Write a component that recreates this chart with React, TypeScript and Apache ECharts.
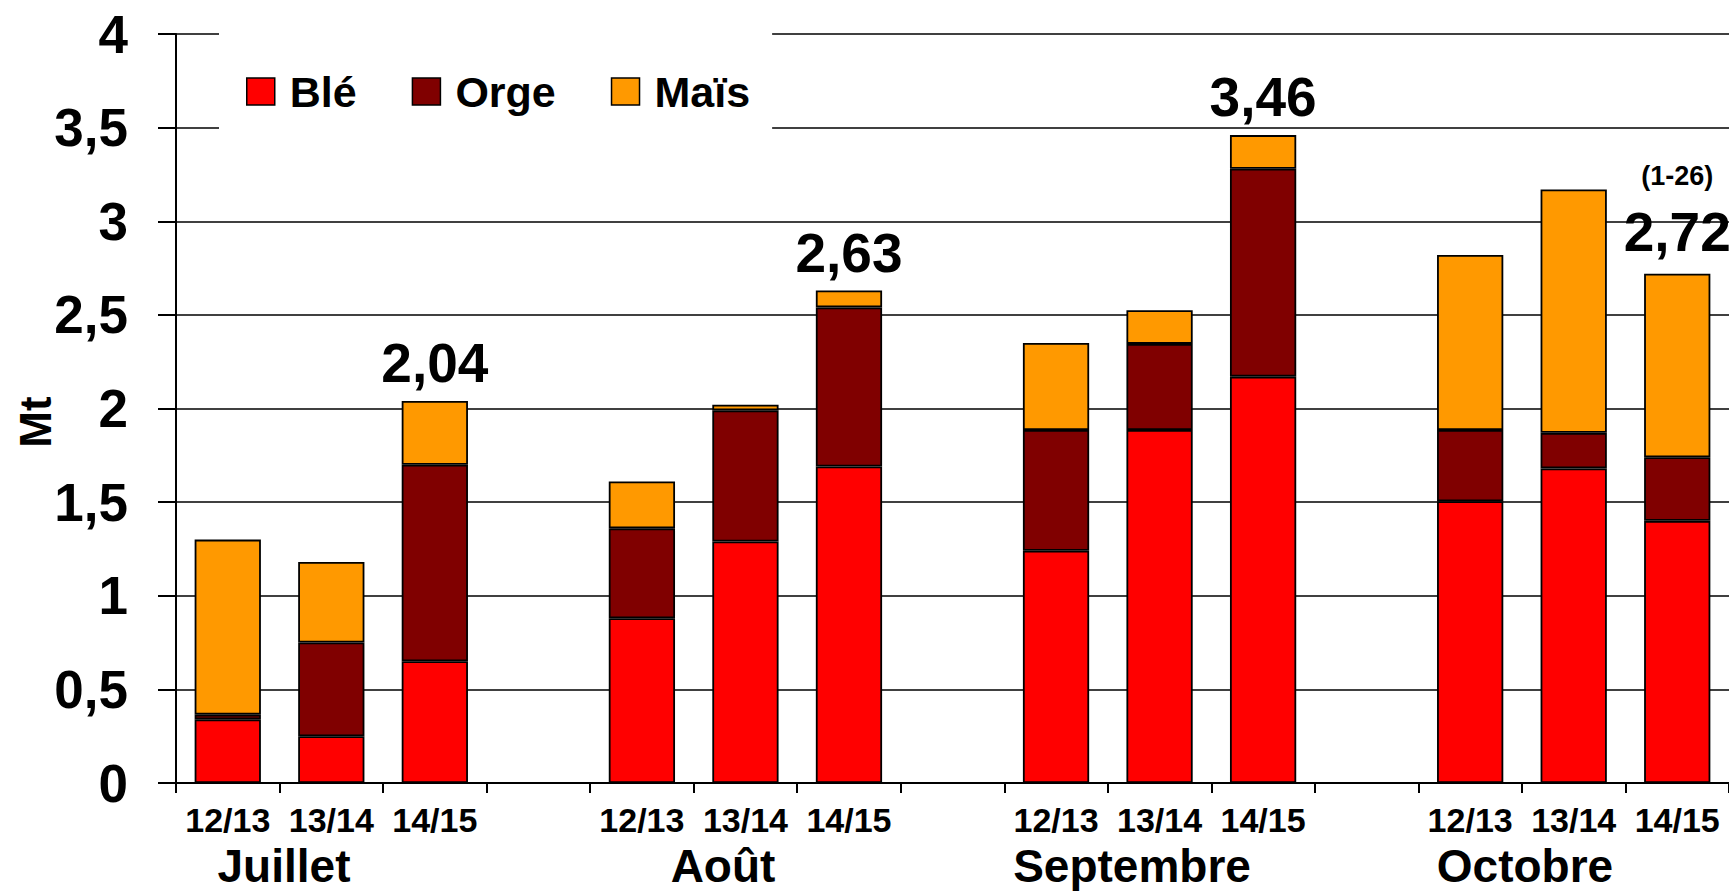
import { useEffect, useRef } from "react";
import * as echarts from "echarts";

const categories = ["12/13", "13/14", "14/15", "", "12/13", "13/14", "14/15", "", "12/13", "13/14", "14/15", "", "12/13", "13/14", "14/15"];
const ble = [0.34, 0.25, 0.65, null, 0.88, 1.29, 1.69, null, 1.24, 1.885, 2.17, null, 1.505, 1.68, 1.4];
const orge = [0.025, 0.5, 1.05, null, 0.48, 0.7, 0.85, null, 0.645, 0.46, 1.11, null, 0.38, 0.19, 0.34];
const mais = [0.935, 0.43, 0.34, null, 0.25, 0.03, 0.09, null, 0.465, 0.18, 0.18, null, 0.935, 1.3, 0.98];
const seriesNames = ["Blé", "Orge", "Maïs"];
const colors = ["#FF0000", "#800000", "#FF9900"];
const months = ["Juillet", "Août", "Septembre", "Octobre"];
const totalLabelIdx = [2, 6, 10, 14];
const noteIdx = 14;
const noteText = "(1-26)";
const yTicks = { min: 0, max: 4, interval: 0.5 };

const FONT = "Arial, 'Liberation Sans', sans-serif";

export default function App() {
  const ref = useRef<HTMLDivElement>(null);
  useEffect(() => {
    if (!ref.current) return;
    const chart = echarts.init(ref.current, undefined, { renderer: "svg" });
    const fmt = (v: number) => v.toFixed(2).replace(".", ",");
    const total = (i: number) => (ble[i] || 0) + (orge[i] || 0) + (mais[i] || 0);
    const maisData = mais.map((v, i) => {
      if (!totalLabelIdx.includes(i)) return v;
      const isNote = i === noteIdx;
      return {
        value: v,
        label: {
          show: true,
          position: "top",
          distance: isNote ? 16 : 12,
          formatter: isNote ? `{n|${noteText}}\n{t|${fmt(total(i))}}` : `{t|${fmt(total(i))}}`,
          rich: {
            n: { fontSize: 27, fontWeight: "bold", fontFamily: FONT, color: "#000", lineHeight: 60 },
            t: { fontSize: 55, fontWeight: "bold", fontFamily: FONT, color: "#000", lineHeight: 52 },
          },
        },
      };
    });
    const data = [ble, orge, maisData];
    const monthX = [284, 723, 1132, 1525];
    chart.setOption({
      animation: false,
      backgroundColor: "#fff",
      grid: { left: 176, right: 0, top: 34, bottom: 108, containLabel: false },
      legend: {
        data: seriesNames,
        left: 219,
        top: 25,
        orient: "horizontal",
        icon: "rect",
        itemWidth: 28,
        itemHeight: 27,
        itemGap: 55,
        backgroundColor: "#fff",
        padding: [45, 22, 44, 27],
        textStyle: { fontSize: 43, fontWeight: "bold", fontFamily: FONT, color: "#000", padding: [0, 0, 0, 10] },
        itemStyle: { borderColor: "#000", borderWidth: 1.5 },
      },
      xAxis: {
        type: "category",
        data: categories,
        axisLine: { lineStyle: { color: "#000", width: 2 } },
        axisTick: { show: true, length: 10, interval: 0, lineStyle: { color: "#000", width: 2 } },
        axisLabel: { interval: 0, margin: 20, fontSize: 34, fontWeight: "bold", fontFamily: FONT, color: "#000" },
      },
      yAxis: {
        type: "value",
        min: yTicks.min,
        max: yTicks.max,
        interval: yTicks.interval,
        axisLine: { show: true, lineStyle: { color: "#000", width: 2 } },
        axisTick: { show: true, length: 18, lineStyle: { color: "#000", width: 2 } },
        axisLabel: {
          margin: 48,
          fontSize: 53,
          fontWeight: "bold",
          fontFamily: FONT,
          color: "#000",
          formatter: (v: number) => String(v).replace(".", ","),
        },
        splitLine: { show: true, lineStyle: { color: "#000", width: 1.5 } },
      },
      series: seriesNames.map((name, k) => ({
        name,
        type: "bar",
        stack: "total",
        barWidth: "64%",
        data: data[k],
        itemStyle: { color: colors[k], borderColor: "#000", borderWidth: 1.8 },
      })),
      graphic: [
        {
          type: "text",
          x: 35,
          y: 422,
          rotation: Math.PI / 2,
          style: { text: "Mt", font: `bold 44px ${FONT}`, fill: "#000", textAlign: "center", textVerticalAlign: "middle" },
        },
        ...months.map((m, i) => ({
          type: "text",
          x: monthX[i],
          y: 866,
          style: { text: m, font: `bold 46px ${FONT}`, fill: "#000", textAlign: "center", textVerticalAlign: "middle" },
        })),
      ],
    });
    return () => chart.dispose();
  }, []);
  return <div ref={ref} style={{ position: "absolute", left: 0, top: 0, width: 1729, height: 891 }} />;
}
